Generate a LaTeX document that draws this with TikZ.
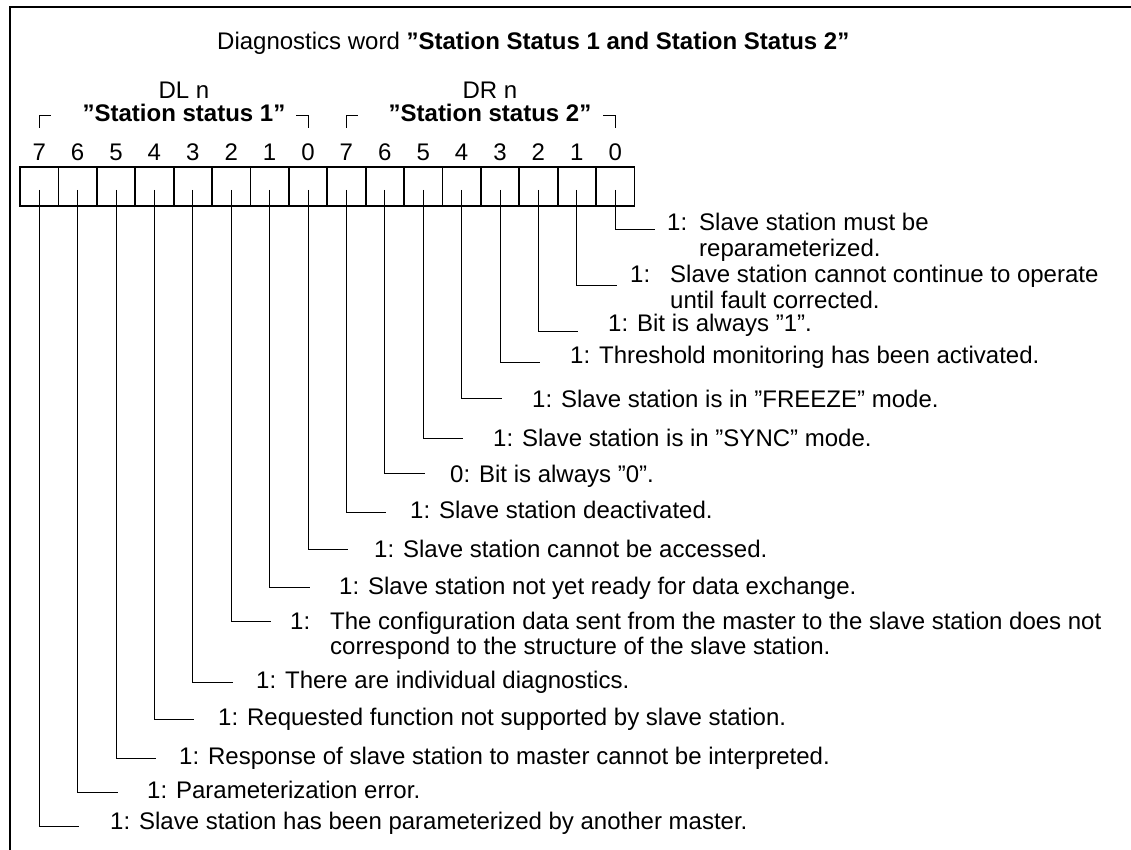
\documentclass[tikz,border=0pt]{standalone}
\usepackage{fontspec}
\setmainfont{Liberation Sans}
\newcommand{\dgfont}{\fontsize{24}{26}\selectfont}
\begin{document}
\begin{tikzpicture}[x=1pt,y=-1pt,
  cellbox/.style={draw,line width=1.8pt,minimum width=38.4pt,minimum height=39pt,inner sep=0pt,outer sep=0pt},
  conn/.style={line width=0.9pt},
  lbl/.style={anchor=base west,inner sep=0pt,font=\dgfont},
  hdr/.style={inner sep=0pt,font=\dgfont},
  brk/.style={line width=0.9pt}]
\useasboundingbox (0,0) rectangle (1131,850);
% frame
\draw[line width=1.6pt] (10,852) -- (10,7) -- (1133,7);
% title and group headers
\node[hdr,anchor=base west] (title) at (217,50) {Diagnostics word \textbf{”Station Status 1 and Station Status 2”}};
\node[hdr,anchor=base] (dl) at (184,99) {DL n};
\node[hdr,anchor=base] (dls) at (184,122) {\textbf{”Station status 1”}};
\node[hdr,anchor=base] (dr) at (490,99) {DR n};
\node[hdr,anchor=base] (drs) at (490,122) {\textbf{”Station status 2”}};
\draw[brk] (39,128) -- (39,115) -- (51,115);
\draw[brk] (296,115) -- (308,115) -- (308,128);
\draw[brk] (346,128) -- (346,115) -- (358,115);
\draw[brk] (603,115) -- (615,115) -- (615,128);
% cells and bit numbers
\foreach \i/\b in {0/7,1/6,2/5,3/4,4/3,5/2,6/1,7/0,8/7,9/6,10/5,11/4,12/3,13/2,14/1,15/0}{
  \node[cellbox] (c\i) at ({39.2+38.4*\i},186.5) {};
  \node[hdr,anchor=base] (d\i) at ({39.2+38.4*\i},160.5) {\b};
}
% connectors from the cells
\foreach \i/\y in {15/229,14/285,13/331,12/362,11/398,10/438,9/473,8/512,7/549,6/587,5/621,4/682,3/719,2/758,1/792,0/826}{
  \coordinate (e\i) at ({79.2+38.4*\i},\y);
  \draw[conn] ([yshift=16pt]c\i.south) |- (e\i);
}
% texts DR
\node[lbl] (t15a) at (667,230) {1:};
\node[lbl] (t15) at (699,230) {Slave station must be};
\node[lbl] (t15b) at (699,256) {reparameterized.};
\node[lbl] (t14a) at (630,282) {1:};
\node[lbl] (t14) at (670,282) {Slave station cannot continue to operate};
\node[lbl] (t14b) at (670,308) {until fault corrected.};
\node[lbl] (t13) at (608,331.5) {1: Bit is always ”1”.};
\node[lbl] (t12) at (570,363.5) {1: Threshold monitoring has been activated.};
\node[lbl] (t11) at (532,407) {1: Slave station is in ”FREEZE” mode.};
\node[lbl] (t10) at (493,446) {1: Slave station is in ”SYNC” mode.};
\node[lbl] (t9) at (450,482) {0: Bit is always ”0”.};
\node[lbl] (t8) at (410,518) {1: Slave station deactivated.};
% texts DL
\node[lbl] (t7) at (374,557) {1: Slave station cannot be accessed.};
\node[lbl] (t6) at (339,594) {1: Slave station not yet ready for data exchange.};
\node[lbl] (t5a) at (290,629) {1:};
\node[lbl] (t5) at (330,629) {The configuration data sent from the master to the slave station does not};
\node[lbl] (t5b) at (330,654) {correspond to the structure of the slave station.};
\node[lbl] (t4) at (256,688) {1: There are individual diagnostics.};
\node[lbl] (t3) at (218,725) {1: Requested function not supported by slave station.};
\node[lbl] (t2) at (179,764) {1: Response of slave station to master cannot be interpreted.};
\node[lbl] (t1) at (147,798) {1: Parameterization error.};
\node[lbl] (t0) at (110,829.5) {1: Slave station has been parameterized by another master.};
\end{tikzpicture}
\end{document}
